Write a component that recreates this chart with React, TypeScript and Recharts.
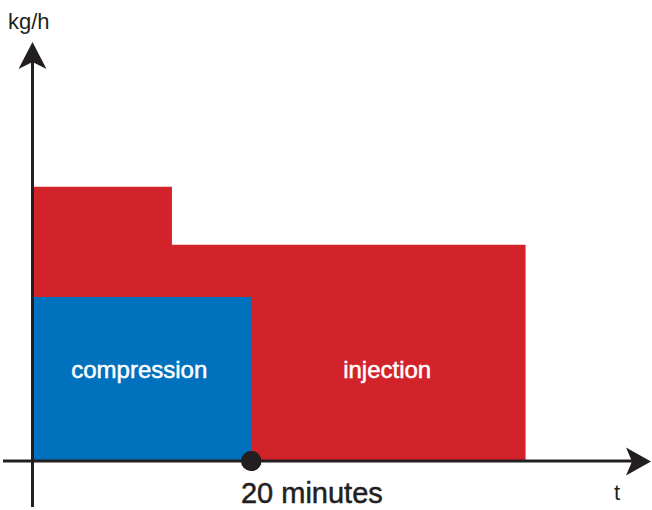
import { ComposedChart, Area, XAxis, YAxis, ReferenceDot } from 'recharts'

// minutes on x, kg/h (arbitrary units) on y
const times = [0, 12.75, 20, 45.2]
const injection = [6.67, 5.26, 5.26, 5.26]
const compression = [3.99, 3.99, 3.99, null]

const data = times.map((t, i) => ({
  t,
  injection: injection[i],
  compression: compression[i],
}))

const RED = '#d2232a'
const BLUE = '#0071bc'
const INK = '#231f20'
const FONT = '"Liberation Sans", Arial, Helvetica, sans-serif'

const W = 652
const H = 510

function MarkerWithLabel(props: any) {
  const { cx, cy } = props
  return (
    <g>
      <circle cx={cx} cy={cy} r={10} fill={INK} />
      <text
        x={cx - 10}
        y={cy + 42}
        fontSize={29}
        fill={INK}
        stroke={INK}
        strokeWidth={0.5}
        fontFamily={FONT}
      >
        20 minutes
      </text>
    </g>
  )
}

function areaText(value: string) {
  return (props: any) => (
    <text
      x={props.cx}
      y={props.cy}
      textAnchor="middle"
      fontSize={24}
      fill="#fff"
      stroke="#fff"
      strokeWidth={0.5}
      fontFamily={FONT}
    >
      {value}
    </text>
  )
}

export default function App() {
  return (
    <div style={{ position: 'absolute', left: 0, top: 0, width: W, height: H, background: '#fff' }}>
      <ComposedChart
        width={W}
        height={H}
        data={data}
        margin={{ top: 50, right: 12, bottom: 49, left: 33 }}
      >
        <XAxis dataKey="t" type="number" domain={[0, 55.7]} hide />
        <YAxis type="number" domain={[0, 10]} hide />
        <Area
          type="stepAfter"
          dataKey="injection"
          stroke="none"
          fill={RED}
          fillOpacity={1}
          isAnimationActive={false}
        />
        <Area
          type="stepAfter"
          dataKey="compression"
          stroke="none"
          fill={BLUE}
          fillOpacity={1}
          isAnimationActive={false}
        />
        <ReferenceDot x={9.75} y={2.02} r={0} shape={areaText('compression')} />
        <ReferenceDot x={32.5} y={2.02} r={0} shape={areaText('injection')} />
        <ReferenceDot x={20} y={0} r={10} ifOverflow="visible" shape={MarkerWithLabel} />
      </ComposedChart>
      <svg
        width={W}
        height={H}
        style={{ position: 'absolute', left: 0, top: 0, pointerEvents: 'none' }}
      >
        <line x1={32.5} y1={507} x2={32.5} y2={60} stroke={INK} strokeWidth={3} />
        <polygon points="32.5,42 18.5,69 32.5,62 46.5,69" fill={INK} />
        <line x1={3} y1={461} x2={640} y2={461} stroke={INK} strokeWidth={3} />
        <polygon points="651,461.5 626,447.5 632,461.5 626,475.5" fill={INK} />
        <circle cx={251.5} cy={461} r={10} fill={INK} />
        <text x={8} y={29} fontSize={22} fill={INK} fontFamily={FONT}>
          kg/h
        </text>
        <text x={614} y={500} fontSize={22} fill={INK} fontFamily={FONT}>
          t
        </text>
      </svg>
    </div>
  )
}
